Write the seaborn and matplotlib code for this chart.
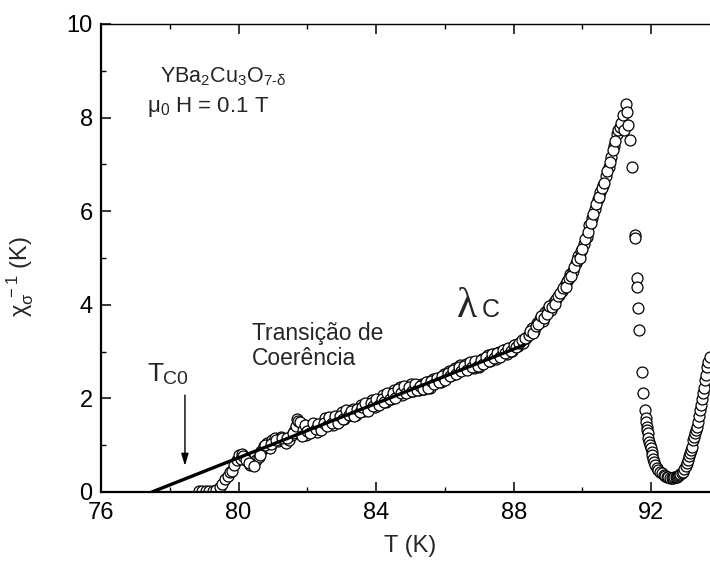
import numpy as np
import pandas as pd
import matplotlib
matplotlib.use("Agg")
import matplotlib.pyplot as plt
import seaborn as sns
from matplotlib.ticker import MultipleLocator

# onset of the coherence transition (T in K, inverse susceptibility in K)
t_onset = [78.85, 78.95, 79.05, 79.15, 79.25, 79.35, 79.45, 79.52, 79.60, 79.68,
           79.75, 79.82, 79.88, 79.95, 80.02, 80.10, 80.18, 80.26, 80.34, 80.42,
           80.50, 80.58, 80.66, 80.74, 80.82, 80.90, 80.98, 81.06, 81.14, 81.22,
           81.30, 81.38, 81.46, 81.54, 81.62, 81.70,
           80.06, 80.14, 80.22, 80.30, 80.46, 80.62, 80.78, 80.94, 81.10, 81.26,
           81.42, 81.58, 81.66, 81.74]
chi_onset = [0.02, 0.02, 0.02, 0.03, 0.03, 0.05, 0.10, 0.18, 0.28, 0.35,
             0.42, 0.45, 0.58, 0.68, 0.78, 0.82, 0.72, 0.65, 0.58, 0.60,
             0.68, 0.75, 0.88, 0.98, 1.05, 0.95, 1.10, 1.15, 1.08, 1.18,
             1.12, 1.05, 1.10, 1.22, 1.30, 1.55,
             0.70, 0.76, 0.68, 0.62, 0.55, 0.80, 1.00, 1.02, 1.12, 1.15,
             1.15, 1.25, 1.40, 1.52]

# quasi-linear regime (two interleaved sweeps)
t_linear = [81.80, 81.88, 81.96, 82.04, 82.12, 82.20, 82.28, 82.36, 82.44, 82.52,
            82.60, 82.68, 82.76, 82.84, 82.92, 83.00, 83.08, 83.16, 83.24, 83.32,
            83.40, 83.48, 83.56, 83.64, 83.72, 83.80, 83.88, 83.96, 84.04, 84.12,
            84.20, 84.28, 84.36, 84.44, 84.52, 84.60, 84.68, 84.76, 84.84, 84.92,
            85.00, 85.08, 85.16, 85.24, 85.32, 85.40, 85.48, 85.56, 85.64, 85.72,
            85.80, 85.88, 85.96, 86.04, 86.12, 86.20, 86.28, 86.36, 86.44, 86.52,
            86.60, 86.68, 86.76, 86.84, 86.92, 87.00, 87.08, 87.16, 87.24, 87.32,
            87.40, 87.48, 87.56, 87.64, 87.72, 87.80, 87.88, 87.96, 88.04, 88.12,
            88.20, 88.28, 88.36]
chi_linear = [1.50, 1.33, 1.22, 1.42, 1.32, 1.43, 1.29, 1.44, 1.38, 1.58,
              1.46, 1.56, 1.44, 1.58, 1.53, 1.70, 1.55, 1.69, 1.64, 1.77,
              1.64, 1.76, 1.85, 1.73, 1.85, 1.79, 1.96, 1.81, 1.95, 1.91,
              2.07, 1.92, 2.07, 1.98, 2.18, 2.08, 2.25, 2.08, 2.23, 2.14,
              2.30, 2.15, 2.29, 2.17, 2.30, 2.20, 2.34, 2.22, 2.42, 2.32,
              2.40, 2.34, 2.52, 2.44, 2.59, 2.50, 2.65, 2.56, 2.72, 2.64,
              2.73, 2.63, 2.75, 2.65, 2.78, 2.68, 2.85, 2.78, 2.93, 2.80,
              2.94, 2.84, 3.00, 2.92, 3.03, 2.95, 3.07, 3.02, 3.13, 3.11,
              3.21, 3.18, 3.28]
t_linear_b = [81.84, 81.92, 82.00, 82.08, 82.16, 82.24, 82.32, 82.40, 82.48, 82.56,
              82.64, 82.72, 82.80, 82.88, 82.96, 83.04, 83.12, 83.20, 83.28, 83.36,
              83.44, 83.52, 83.60, 83.68, 83.76, 83.84, 83.92, 84.00, 84.08, 84.16,
              84.24, 84.32, 84.40, 84.48, 84.56, 84.64, 84.72, 84.80, 84.88, 84.96,
              85.04, 85.12, 85.20, 85.28, 85.36, 85.44, 85.52, 85.60, 85.68, 85.76,
              85.84, 85.92, 86.00, 86.08, 86.16, 86.24, 86.32, 86.40, 86.48, 86.56,
              86.64, 86.72, 86.80, 86.88, 86.96, 87.04, 87.12, 87.20, 87.28, 87.36,
              87.44, 87.52, 87.60, 87.68, 87.76, 87.84, 87.92, 88.00, 88.08, 88.16,
              88.24, 88.32]
chi_linear_b = [1.20, 1.44, 1.31, 1.25, 1.48, 1.34, 1.46, 1.33, 1.48, 1.41,
                1.60, 1.48, 1.62, 1.48, 1.63, 1.56, 1.75, 1.64, 1.74, 1.62,
                1.78, 1.70, 1.81, 1.90, 1.74, 1.90, 1.84, 1.98, 1.85, 1.99,
                1.93, 2.11, 1.99, 2.11, 2.00, 2.20, 2.12, 2.26, 2.11, 2.25,
                2.16, 2.31, 2.18, 2.27, 2.20, 2.36, 2.23, 2.37, 2.30, 2.44,
                2.36, 2.48, 2.39, 2.54, 2.47, 2.61, 2.52, 2.67, 2.58, 2.69,
                2.60, 2.78, 2.67, 2.80, 2.70, 2.82, 2.73, 2.88, 2.80, 2.95,
                2.86, 2.96, 2.88, 3.04, 2.96, 3.07, 3.02, 3.14, 3.10, 3.18,
                3.24, 3.30]

# upturn towards the peak
t_rise = [88.44, 88.52, 88.60, 88.68, 88.76, 88.84, 88.92, 89.00, 89.08, 89.16,
          89.24, 89.32, 89.40, 89.48, 89.56, 89.64, 89.72, 89.80, 89.88, 89.96,
          90.04, 90.12, 90.20, 90.28, 90.36, 90.44, 90.52, 90.60, 90.68, 90.76,
          90.84, 90.92, 91.00, 91.03, 91.08, 91.12, 91.17, 91.20, 91.26, 91.29,
          91.32,
          88.48, 88.56, 88.64, 88.72, 88.80, 88.88, 88.96, 89.04, 89.12, 89.20,
          89.28, 89.36, 89.44, 89.52, 89.60, 89.68, 89.76, 89.84, 89.92, 90.00,
          90.08, 90.16, 90.24, 90.32, 90.40, 90.48, 90.56, 90.64, 90.72, 90.80,
          90.88, 90.96]
chi_rise = [3.35, 3.50, 3.45, 3.62, 3.70, 3.66, 3.85, 3.92, 3.88, 4.05,
            4.12, 4.20, 4.30, 4.42, 4.50, 4.65, 4.72, 4.90, 5.05, 5.15,
            5.30, 5.45, 5.70, 5.85, 6.05, 6.25, 6.40, 6.55, 6.75, 6.95,
            7.15, 7.40, 7.65, 7.73, 7.80, 7.88, 8.06, 7.73, 8.29, 8.12,
            7.84,
            3.45, 3.40, 3.55, 3.58, 3.75, 3.72, 3.80, 3.98, 3.95, 4.02,
            4.18, 4.25, 4.35, 4.38, 4.58, 4.62, 4.80, 4.95, 5.00, 5.20,
            5.40, 5.55, 5.75, 5.95, 6.15, 6.30, 6.50, 6.60, 6.85, 7.05,
            7.30, 7.50]

# drop and minimum near Tc
t_dip = [91.38, 91.44, 91.52, 91.53, 91.58, 91.59, 91.61, 91.64, 91.73, 91.76,
         91.81, 91.84, 91.86, 91.87, 91.89, 91.90, 91.92, 91.93, 91.96, 91.99,
         92.01, 92.02, 92.05, 92.08, 92.12, 92.16, 92.20, 92.25, 92.31, 92.36,
         92.41, 92.45, 92.50, 92.55, 92.59, 92.63, 92.67, 92.71, 92.74, 92.77,
         92.81, 92.85, 92.89, 92.92, 92.96, 93.00, 93.03, 93.06, 93.09, 93.12,
         93.15, 93.18, 93.21, 93.24, 93.27, 93.30, 93.33, 93.36, 93.39, 93.41,
         93.44, 93.47, 93.50, 93.53, 93.56, 93.59, 93.62, 93.66, 93.71]
chi_dip = [7.52, 6.94, 5.49, 5.42, 4.57, 4.38, 3.93, 3.46, 2.56, 2.12,
           1.75, 1.58, 1.50, 1.39, 1.32, 1.26, 1.16, 1.07, 1.01, 0.94,
           0.86, 0.79, 0.71, 0.64, 0.57, 0.51, 0.46, 0.43, 0.41, 0.37,
           0.35, 0.32, 0.31, 0.30, 0.30, 0.30, 0.31, 0.32, 0.32, 0.34,
           0.36, 0.39, 0.41, 0.43, 0.49, 0.55, 0.62, 0.69, 0.76, 0.83,
           0.90, 0.97, 1.11, 1.18, 1.27, 1.33, 1.39, 1.50, 1.62, 1.75,
           1.85, 1.98, 2.12, 2.22, 2.39, 2.50, 2.67, 2.78, 2.88]

# linear fit extrapolated to Tc0
fit_t = [77.48, 88.30]
fit_chi = [0.0, 3.14]

df = pd.DataFrame({
    "T": t_onset + t_linear + t_linear_b + t_rise + t_dip,
    "chi": chi_onset + chi_linear + chi_linear_b + chi_rise + chi_dip,
})
fit = pd.DataFrame({"T": fit_t, "chi": fit_chi})

sns.set_theme(style="ticks")
plt.rcParams["font.family"] = ["Liberation Sans", "DejaVu Sans"]
plt.rcParams["mathtext.fontset"] = "custom"
plt.rcParams["mathtext.rm"] = "Liberation Sans"
plt.rcParams["mathtext.it"] = "Liberation Sans:italic"
plt.rcParams["mathtext.bf"] = "Liberation Sans:bold"

fig = plt.figure(figsize=(7.1, 5.71), dpi=100)
# the original axis runs to 94 K but the picture is cropped at ~93.7 K
ax = fig.add_axes([0.1423, 0.1384, 0.8718, 0.8196])

sns.scatterplot(data=df, x="T", y="chi", ax=ax, marker="o", s=62,
                facecolor="white", edgecolor="black", linewidth=0.9, zorder=2)
sns.lineplot(data=fit, x="T", y="chi", ax=ax, color="black", linewidth=2.4,
             zorder=3)

ax.set_xlim(76, 94)
ax.set_ylim(0, 10)
ax.xaxis.set_major_locator(MultipleLocator(4))
ax.xaxis.set_minor_locator(MultipleLocator(2))
ax.yaxis.set_major_locator(MultipleLocator(2))
ax.yaxis.set_minor_locator(MultipleLocator(1))
ax.tick_params(which="both", direction="in", top=True, right=True, colors="black",
               labelsize=17)
ax.tick_params(which="major", length=7, width=1.1)
ax.tick_params(which="minor", length=3.6, width=1.0)
ax.tick_params(axis="x", pad=7)
ax.tick_params(axis="y", pad=6)
for side in ["left", "bottom"]:
    ax.spines[side].set_linewidth(1.6)
ax.spines["top"].set_linewidth(1.0)
ax.spines["right"].set_linewidth(1.0)
for s in ax.spines.values():
    s.set_color("black")

ax.set_xlabel("T (K)", fontsize=17, labelpad=8)
ax.set_ylabel(r"$\mathrm{\chi_{\sigma}^{\ -1}}$ (K)", fontsize=17)
ax.yaxis.set_label_coords(-0.105, 0.46)

ax.text(77.72, 8.76, r"YBa$_\mathrm{2}$Cu$_\mathrm{3}$O$_\mathrm{7\text{-}\delta}$",
        fontsize=15.5, va="baseline", ha="left")
ax.text(77.34, 8.12, r"$\mathrm{\mu_0}$ H = 0.1 T", fontsize=16,
        va="baseline", ha="left")

ax.text(80.39, 3.63, "Transição de\nCoerência", fontsize=16.5, va="top",
        ha="left", linespacing=1.12)

ax.text(86.35, 3.74, "λ", fontsize=30, family=["Liberation Serif", "DejaVu Serif"],
        va="baseline", ha="left")
ax.text(87.08, 3.74, "C", fontsize=18, va="baseline", ha="left")

ax.text(77.34, 2.37, "T", fontsize=19, va="baseline", ha="left")
ax.text(77.80, 2.31, "C0", fontsize=14, va="baseline", ha="left")
ax.annotate("", xy=(78.44, 0.56), xytext=(78.44, 2.07),
            arrowprops=dict(arrowstyle="-|>,head_width=0.18,head_length=0.6",
                            color="black", lw=1.0, shrinkA=0, shrinkB=0))

fig.savefig("out.png", dpi=100)
